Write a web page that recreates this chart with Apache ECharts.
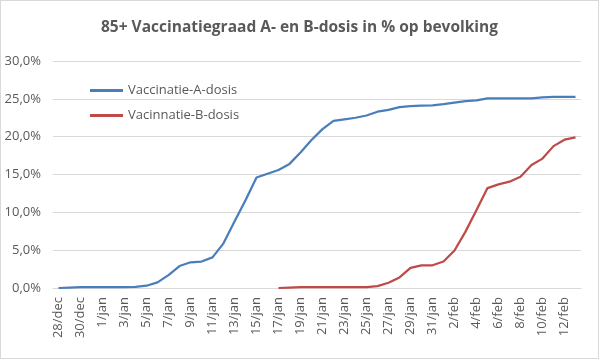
<!DOCTYPE html>
<html>
<head>
<meta charset="utf-8">
<script src="https://cdn.jsdelivr.net/npm/echarts@6/dist/echarts.min.js"></script>
<style>
html,body{margin:0;padding:0;background:#fff;}
#c{width:599px;height:359px;box-sizing:border-box;border:1px solid #d9d9d9;}
</style>
</head>
<body>
<div id="c"></div>
<script>
var categories = ['28/dec','29/dec','30/dec','31/dec',
  '1/jan','2/jan','3/jan','4/jan','5/jan','6/jan','7/jan','8/jan','9/jan','10/jan',
  '11/jan','12/jan','13/jan','14/jan','15/jan','16/jan','17/jan','18/jan','19/jan','20/jan',
  '21/jan','22/jan','23/jan','24/jan','25/jan','26/jan','27/jan','28/jan','29/jan','30/jan','31/jan',
  '1/feb','2/feb','3/feb','4/feb','5/feb','6/feb','7/feb','8/feb','9/feb','10/feb','11/feb','12/feb','13/feb'];
var doseA = [0.0,0.05,0.1,0.1,0.1,0.1,0.1,0.15,0.3,0.75,1.7,2.9,3.4,3.5,4.05,5.9,8.8,11.6,14.6,15.1,
  15.6,16.4,17.9,19.55,21.0,22.1,22.3,22.5,22.8,23.3,23.55,23.9,24.05,24.1,24.15,24.3,24.5,24.7,24.8,
  25.05,25.05,25.05,25.05,25.05,25.2,25.25,25.25,25.25];
var doseB = [null,null,null,null,null,null,null,null,null,null,null,null,null,null,null,null,null,null,null,null,
  0.0,0.05,0.1,0.1,0.1,0.1,0.1,0.1,0.1,0.25,0.7,1.4,2.65,3.0,3.0,3.5,4.95,7.45,10.3,13.2,13.7,14.05,14.7,
  16.25,17.1,18.75,19.6,19.9];
var seriesNames = ['Vaccinatie-A-dosis','Vacinnatie-B-dosis'];
var titleText = '85+ Vaccinatiegraad A- en B-dosis in % op bevolking';

var font = 'Open Sans';
var chart = echarts.init(document.getElementById('c'));
chart.setOption({
  animation:false,
  title:{text:titleText,left:'center',top:14,textStyle:{fontFamily:font,fontSize:15.5,fontWeight:'bold',color:'#595959'}},
  legend:{orient:'vertical',left:84,top:78,itemWidth:33,itemHeight:3,itemGap:12,icon:'rect',
    textStyle:{fontFamily:font,fontSize:13,color:'#595959'},data:seriesNames},
  grid:{left:52,right:17,top:60,bottom:70},
  xAxis:{type:'category',data:categories,boundaryGap:true,
    axisLine:{lineStyle:{color:'#d9d9d9'}},axisTick:{show:false},
    axisLabel:{interval:1,rotate:90,fontFamily:font,fontSize:13,color:'#595959',margin:9}},
  yAxis:{type:'value',min:0,max:30,interval:5,
    axisLine:{show:false},axisTick:{show:false},
    splitLine:{lineStyle:{color:'#d9d9d9'}},
    axisLabel:{fontFamily:font,fontSize:13,color:'#595959',margin:12,
      formatter:function(v){return v.toFixed(1).replace('.',',')+'%';}}},
  series:[
    {name:seriesNames[0],type:'line',data:doseA,symbol:'none',lineStyle:{width:2.25,color:'#4a7ebb'},itemStyle:{color:'#4a7ebb'}},
    {name:seriesNames[1],type:'line',data:doseB,symbol:'none',lineStyle:{width:2.25,color:'#be4b48'},itemStyle:{color:'#be4b48'}}
  ]
});
</script>
</body>
</html>
